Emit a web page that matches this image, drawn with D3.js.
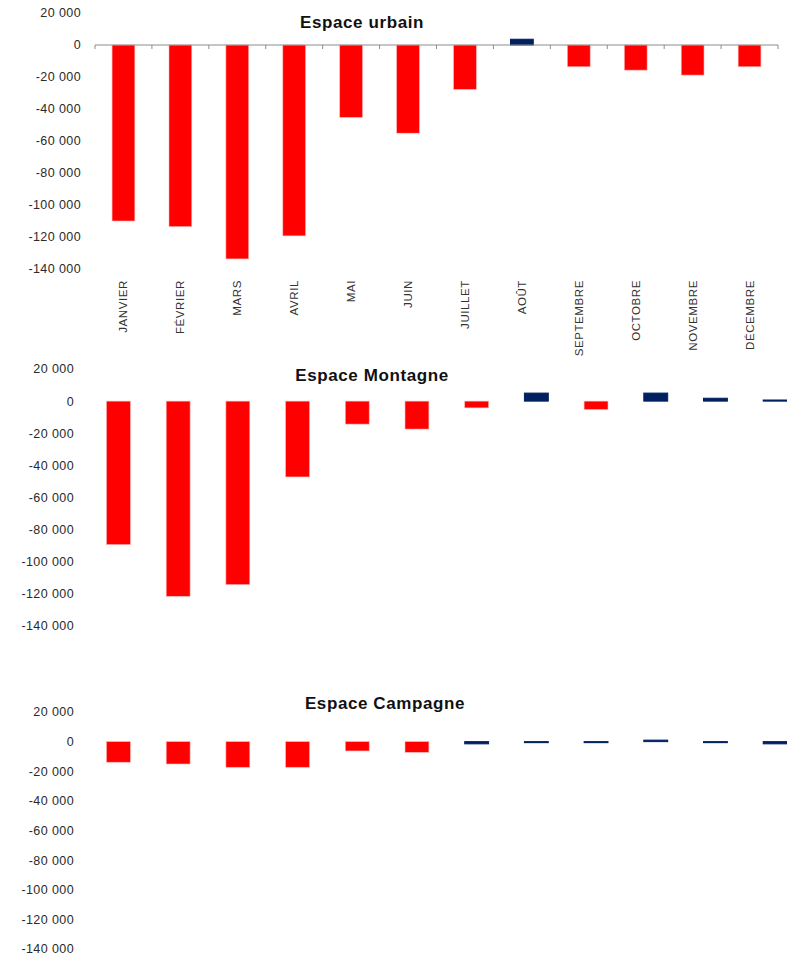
<!DOCTYPE html>
<html><head><meta charset="utf-8">
<script src="https://cdn.jsdelivr.net/npm/d3@7"></script>
<style>body{margin:0;background:#fff}svg{display:block}</style>
</head><body>
<svg id="c" width="787" height="955"></svg>
<script>
const months = ["JANVIER","FÉVRIER","MARS","AVRIL","MAI","JUIN","JUILLET","AOÛT","SEPTEMBRE","OCTOBRE","NOVEMBRE","DÉCEMBRE"];
const yTicks = [20000,0,-20000,-40000,-60000,-80000,-100000,-120000,-140000];
// red series (baisse) and dark blue series, null where absent
const urbainRouge   = [-110000,-113500,-133700,-119300,-45200,-55100,-27700,null,-13600,-15700,-18800,-13600];
const urbainBleu    = [null,null,null,null,null,null,null,3600,null,null,null,null];
const montagneRouge = [-89300,-121500,-114200,-47200,-14300,-17400,-4200,null,-5200,null,null,null];
const montagneBleu  = [null,null,null,null,null,null,null,5000,null,5000,1800,700];
const campagneRouge = [-13900,-15100,-17300,-17300,-6300,-7200,null,null,null,null,null,null];
const campagneBleu  = [null,null,null,null,null,null,-1500,-700,-700,1000,-700,-1500];

const RED="#FF0000", BLUE="#002060";
const svg = d3.select("#c");
const fr = d3.formatLocale({decimal:",",thousands:" ",grouping:[3],currency:["","€"],minus:"-"});
const fmt = fr.format(",d");

const panels = [
  {title:"Espace urbain", rouge:urbainRouge, bleu:urbainBleu, x0:95, x1:778, yTop:13, yBot:269, labX:81, titleX:362, titleY:28, axis:true},
  {title:"Espace Montagne", rouge:montagneRouge, bleu:montagneBleu, x0:88.6, x1:805, yTop:369, yBot:626, labX:74, titleX:372, titleY:381, axis:false},
  {title:"Espace Campagne", rouge:campagneRouge, bleu:campagneBleu, x0:88.6, x1:805, yTop:712, yBot:949, labX:74, titleX:385, titleY:709, axis:false}
];

panels.forEach(p=>{
  const g = svg.append("g");
  const x = d3.scaleBand().domain(months).range([p.x0,p.x1]).paddingInner(0.6).paddingOuter(0.3);
  const y = d3.scaleLinear().domain([-140000,20000]).range([p.yBot,p.yTop]);

  g.selectAll(".yl").data(yTicks).join("text")
    .attr("x",p.labX).attr("y",d=>y(d)).attr("dy","0.35em")
    .attr("text-anchor","end")
    .style("font-family","Liberation Sans, Arial, sans-serif")
    .style("font-size","12.5px").style("letter-spacing","0.4px")
    .attr("fill","#2a2a2a").text(d=>fmt(d));

  g.append("text").attr("x",p.titleX).attr("y",p.titleY).attr("text-anchor","middle")
    .style("font-family","Liberation Sans, Arial, sans-serif").style("font-weight","bold")
    .style("font-size","17px").style("letter-spacing","0.6px")
    .attr("fill","#111").text(p.title);

  const drawSeries=(vals,color,stroke)=>{
    g.selectAll(null).data(months.map((m,i)=>({m,v:vals[i]})).filter(d=>d.v!==null)).join("rect")
      .attr("x",d=>x(d.m)).attr("width",x.bandwidth())
      .attr("y",d=>Math.min(y(d.v),y(0)))
      .attr("height",d=>Math.max(Math.abs(y(d.v)-y(0)),0.8))
      .attr("fill",color)
      .attr("stroke",stroke?color:"#ffb0b0").attr("stroke-width",stroke?1:0.6);
  };
  drawSeries(p.rouge,RED,false);
  drawSeries(p.bleu,BLUE,true);

  if(p.axis){
    const step = x.step();
    const bounds = d3.range(months.length+1).map(i=>p.x0+i*step);
    g.append("line").attr("x1",p.x0).attr("x2",p.x1).attr("y1",y(0)).attr("y2",y(0))
      .attr("stroke","#8c8c8c").attr("stroke-width",1);
    g.selectAll(".tk").data(bounds).join("line")
      .attr("x1",d=>d).attr("x2",d=>d).attr("y1",y(0)).attr("y2",y(0)+4)
      .attr("stroke","#8c8c8c").attr("stroke-width",1);
    g.selectAll(".ml").data(months).join("text")
      .attr("transform",d=>`translate(${x(d)+x.bandwidth()/2},280) rotate(-90)`)
      .attr("text-anchor","end").attr("dy","0.35em")
      .style("font-family","Liberation Sans, Arial, sans-serif").style("font-size","11.5px")
      .style("letter-spacing","0.6px")
      .attr("fill","#333").text(d=>d);
  }
});
</script>
</body></html>
